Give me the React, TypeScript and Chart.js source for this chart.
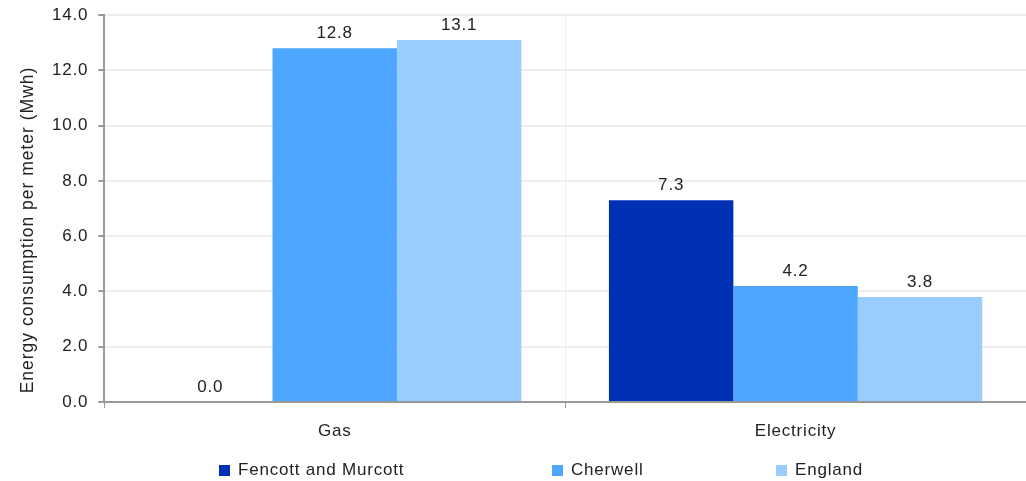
import React, { useEffect, useRef } from "react";
import { Chart, registerables } from "chart.js";

Chart.register(...registerables);

const categories = ["Gas", "Electricity"];
const seriesNames = ["Fencott and Murcott", "Cherwell", "England"];
const fencottValues = [0.0, 7.3];
const cherwellValues = [12.8, 4.2];
const englandValues = [13.1, 3.8];
const seriesColors = ["#0031B4", "#4DA6FF", "#99CCFF"];
const yTicks = [0, 2, 4, 6, 8, 10, 12, 14];
const yTitle = "Energy consumption per meter (Mwh)";

const FONT = "'Liberation Sans', Arial, sans-serif";
const SIZE = 17;
const SPACING = "0.8px";

const spacingPlugin = {
  id: "spacing",
  beforeInit(chart: any) {
    chart.ctx.letterSpacing = SPACING;
  },
  beforeLayout(chart: any) {
    chart.ctx.letterSpacing = SPACING;
  },
  beforeDraw(chart: any) {
    chart.ctx.letterSpacing = SPACING;
  },
};

const yTitlePlugin = {
  id: "yTitle",
  afterDraw(chart: any) {
    const ctx = chart.ctx;
    ctx.save();
    ctx.letterSpacing = "1.0px";
    ctx.font = `17.5px ${FONT}`;
    ctx.fillStyle = "#222";
    ctx.textAlign = "center";
    ctx.textBaseline = "middle";
    ctx.translate(28, 230);
    ctx.rotate(-Math.PI / 2);
    ctx.fillText(yTitle, 0, 0);
    ctx.restore();
  },
};

const dataLabelPlugin = {
  id: "dataLabels",
  afterDatasetsDraw(chart: any) {
    const ctx = chart.ctx;
    ctx.save();
    ctx.letterSpacing = SPACING;
    ctx.font = `${SIZE}px ${FONT}`;
    ctx.fillStyle = "#222";
    ctx.textAlign = "center";
    ctx.textBaseline = "middle";
    chart.data.datasets.forEach((ds: any, i: number) => {
      const meta = chart.getDatasetMeta(i);
      meta.data.forEach((bar: any, j: number) => {
        const v = ds.data[j];
        ctx.fillText(v.toFixed(1), bar.x, bar.y - 15);
      });
    });
    ctx.restore();
  },
};

const legendXs = [219, 552, 776];

const customLegendPlugin = {
  id: "customLegend",
  afterDraw(chart: any) {
    const ctx = chart.ctx;
    ctx.save();
    ctx.letterSpacing = SPACING;
    ctx.font = `${SIZE}px ${FONT}`;
    ctx.textBaseline = "middle";
    ctx.textAlign = "left";
    const y = 470;
    chart.data.datasets.forEach((ds: any, i: number) => {
      const x = legendXs[i];
      ctx.fillStyle = ds.backgroundColor;
      ctx.fillRect(x, y - 5, 11, 11);
      ctx.fillStyle = "#222";
      ctx.fillText(ds.label, x + 19, y);
    });
    ctx.restore();
  },
};

export default function App() {
  const ref = useRef<HTMLCanvasElement>(null);
  useEffect(() => {
    document.body.style.margin = "0";
    const valuesList = [fencottValues, cherwellValues, englandValues];
    const chart = new Chart(ref.current!, {
      type: "bar",
      data: {
        labels: categories,
        datasets: seriesNames.map((name, i) => ({
          label: name,
          data: valuesList[i],
          backgroundColor: seriesColors[i],
          borderWidth: 0,
          categoryPercentage: 0.81,
          barPercentage: 1.0,
        })),
      },
      options: {
        animation: false,
        responsive: false,
        maintainAspectRatio: false,
        layout: { padding: { top: 3, right: 0, bottom: 24, left: 42 } },
        plugins: {
          legend: { display: false },
          tooltip: { enabled: false },
        },
        scales: {
          x: {
            afterFit(axis: any) {
              axis.height = 55;
            },
            grid: {
              offset: true,
              color: "#eeeeee",
              tickColor: "#999999",
              tickLength: 6,
              drawOnChartArea: true,
            },
            border: { color: "#999999", width: 2 },
            ticks: {
              color: "#222",
              font: { family: FONT, size: SIZE, lineHeight: 1.2 },
              padding: 13,
            },
          },
          y: {
            min: 0,
            max: 14,
            afterBuildTicks(axis: any) {
              axis.ticks = yTicks.map((v) => ({ value: v }));
            },
            grid: {
              color: "#eeeeee",
              tickColor: "#999999",
              tickLength: 6,
              lineWidth: 2,
            },
            border: { color: "#999999", width: 2 },
            ticks: {
              color: "#222",
              font: { family: FONT, size: SIZE, lineHeight: 0.6 },
              padding: 10,
              callback: (v: any) => Number(v).toFixed(1),
            },
          },
        },
      },
      plugins: [spacingPlugin, dataLabelPlugin, customLegendPlugin, yTitlePlugin],
    });
    return () => chart.destroy();
  }, []);
  return (
    <div style={{ width: 1026, height: 481 }}>
      <canvas ref={ref} width={1026} height={481} style={{ display: "block" }} />
    </div>
  );
}
